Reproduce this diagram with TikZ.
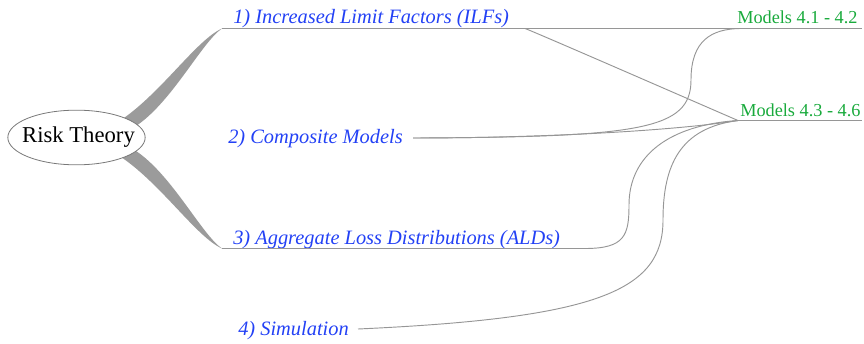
\documentclass[tikz,border=0pt]{standalone}
\usepackage{fontspec}
\setmainfont{Liberation Serif}
\usetikzlibrary{shapes.geometric}
\definecolor{lbl}{RGB}{35,65,245}
\definecolor{mdl}{RGB}{25,170,60}
\definecolor{wirec}{RGB}{150,150,150}
\definecolor{trunk}{RGB}{155,155,155}
\definecolor{rim}{RGB}{120,120,120}
\begin{document}
\begin{tikzpicture}[x=0.75pt,y=-0.75pt,
  topic/.style={font=\fontsize{15.3}{18}\selectfont\itshape, text=lbl, inner sep=0, anchor=base west},
  model/.style={font=\fontsize{13.7}{16}\selectfont, text=mdl, inner sep=0, anchor=base west},
  wire/.style={draw=wirec, line width=0.7pt},
  branch/.style={fill=trunk, draw=none},
  rootbox/.style={ellipse, draw=rim, fill=white, line width=0.6pt, minimum width=103pt, minimum height=41pt, inner sep=0},
  roottext/.style={inner sep=0, font=\fontsize{17}{20}\selectfont}]
\useasboundingbox (0,0) rectangle (864,343);
% coordinates
\coordinate (b1) at (222,28.5);
\coordinate (b3) at (222,248.5);
\coordinate (j1) at (525,28.5);
\coordinate (e1) at (740,28.5);
\coordinate (r1) at (862,28.5);
\coordinate (e2) at (738,120.5);
\coordinate (r2) at (862,120.5);
\coordinate (s2) at (413,138);
\coordinate (s3) at (585,248.5);
\coordinate (s4) at (358,329);
% trunk branches
\path[branch] (118,122) .. controls (160,95) and (196,40) .. (b1)
  .. controls (202,42) and (172,102) .. (136,126) -- cycle;
\path[branch] (118,155) .. controls (160,182) and (196,237) .. (b3)
  .. controls (202,235) and (172,175) .. (136,151) -- cycle;
% root
\node[rootbox] (root) at (76.5,137.5) {};
\node[roottext] (rootlbl) at (78.5,137.5) {Risk Theory};
% labels
\node[topic] (t1) at (233,23) {1) Increased Limit Factors (ILFs)};
\node[topic] (t2) at (228,143) {2) Composite Models};
\node[topic] (t3) at (233,244) {3) Aggregate Loss Distributions (ALDs)};
\node[topic] (t4) at (238,335) {4) Simulation};
\node[model] (m1) at (737,23) {Models 4.1 - 4.2};
\node[model] (m2) at (740,116) {Models 4.3 - 4.6};
% connectors
\draw[wire] (b1) -- (j1) -- (e1) -- (r1);
\draw[wire] (e2) -- (r2);
\draw[wire] (j1) .. controls (535,32) and (725,115) .. (e2);
\draw[wire] (s2) .. controls (640,137) and (691,130) .. (691,80) .. controls (691,40) and (712,29) .. (e1);
\draw[wire] (s2) .. controls (550,138) and (680,130) .. (e2);
\draw[wire] (b3) -- (s3) .. controls (625,248.5) and (629,235) .. (629,205) .. controls (629,155) and (670,125) .. (e2);
\draw[wire] (s4) .. controls (600,318) and (663,290) .. (663,220) .. controls (663,165) and (680,128) .. (e2);
\end{tikzpicture}
\end{document}
